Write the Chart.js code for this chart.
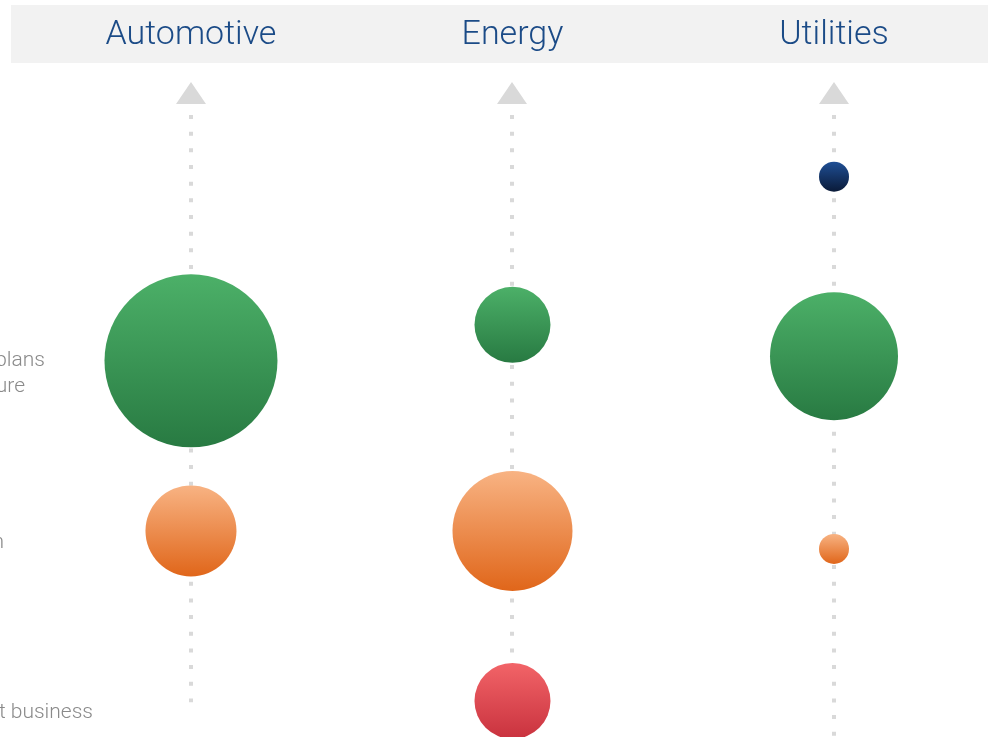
<!DOCTYPE html>
<html>
<head>
<meta charset="utf-8">
<script src="https://cdn.jsdelivr.net/npm/chart.js@4"></script>
<style>
  html, body { margin: 0; padding: 0; background: #fff; }
  #wrap { width: 988px; height: 737px; position: relative; }
</style>
</head>
<body>
<div id="wrap"><canvas id="chart"></canvas></div>
<script>
// categories (columns)
const categories = ['Automotive', 'Energy', 'Utilities'];

// row labels on the left (cut off by the frame)
const rowLabels = [['Investment plans', 'for the future'], ['Cost reduction'], ['Impact on current business']];
const rowValues = [54.4, 29.1, 3.7];

// bubble series: vertical position and bubble radius per category
const greenY = [56.4, 61.8, 57.1];
const greenR = [86.5, 38, 64];
const orangeY = [30.9, 30.9, 28.2];
const orangeR = [45.5, 60, 15];
const redY = [null, 5.4, null];
const redR = [null, 38, null];
const navyY = [null, null, 84.0];
const navyR = [null, null, 15];

// where each dotted guide line stops (value on y)
const guideEnds = [5.2, 0, 0];

function points(ys, rs) {
  const out = [];
  ys.forEach((y, i) => {
    if (y !== null) out.push({ x: i, y: y, r: rs[i] });
  });
  return out;
}

function gradientFill(top, bottom) {
  return function (ctx) {
    const chart = ctx.chart;
    if (!chart.chartArea || !ctx.raw) return bottom;
    const cy = chart.scales.y.getPixelForValue(ctx.raw.y);
    const r = ctx.raw.r;
    const g = chart.ctx.createLinearGradient(0, cy - r, 0, cy + r);
    g.addColorStop(0, top);
    g.addColorStop(1, bottom);
    return g;
  };
}

// header band, arrows, dotted guides and row labels
const decor = {
  id: 'decor',
  beforeDatasetsDraw(chart) {
    const c = chart.ctx;
    const xs = chart.scales.x, ys = chart.scales.y;
    c.save();
    c.fillStyle = '#f2f2f2';
    c.fillRect(11, 5, chart.width - 11, 58);
    c.fillStyle = '#1b4b87';
    c.font = '300 34px Roboto, "Liberation Sans", sans-serif';
    c.textAlign = 'center';
    c.textBaseline = 'middle';
    categories.forEach((name, i) => {
      c.fillText(name, xs.getPixelForValue(i), 35);
    });

    categories.forEach((name, i) => {
      const x = Math.round(xs.getPixelForValue(i));
      c.fillStyle = '#d9d9d9';
      c.beginPath();
      c.moveTo(x, 82);
      c.lineTo(x + 15, 104);
      c.lineTo(x - 15, 104);
      c.closePath();
      c.fill();
      c.strokeStyle = '#d9d9d9';
      c.lineWidth = 4;
      c.setLineDash([4, 12.67]);
      c.beginPath();
      c.moveTo(x, 115);
      c.lineTo(x, ys.getPixelForValue(guideEnds[i]));
      c.stroke();
    });
    c.setLineDash([]);

    c.fillStyle = '#8a8a8a';
    c.font = '300 21px Roboto, "Liberation Sans", sans-serif';
    c.textAlign = 'left';
    c.textBaseline = 'middle';
    const ends = [[45, 25], [4], [93]];
    rowLabels.forEach((lines, i) => {
      const mid = ys.getPixelForValue(rowValues[i]);
      lines.forEach((t, j) => {
        const y = mid + (j - (lines.length - 1) / 2) * 26;
        const w = c.measureText(t).width;
        c.fillText(t, ends[i][j] - w, y);
      });
    });
    c.restore();
  }
};

new Chart(document.getElementById('chart'), {
  type: 'bubble',
  data: {
    datasets: [
      { label: 'Green', data: points(greenY, greenR), backgroundColor: gradientFill('#4cb068', '#287a42') },
      { label: 'Orange', data: points(orangeY, orangeR), backgroundColor: gradientFill('#f8b383', '#e0661a') },
      { label: 'Red', data: points(redY, redR), backgroundColor: gradientFill('#f26468', '#c9323e') },
      { label: 'Navy', data: points(navyY, navyR), backgroundColor: gradientFill('#1f4f95', '#0a1a38') }
    ].map(d => Object.assign(d, { borderWidth: 0, clip: false }))
  },
  options: {
    responsive: true,
    maintainAspectRatio: false,
    animation: false,
    events: [],
    layout: { autoPadding: false, padding: { top: 70, left: 0, right: 0, bottom: 0 } },
    plugins: { legend: { display: false }, tooltip: { enabled: false } },
    scales: {
      x: { type: 'linear', min: -0.594, max: 2.479, display: false },
      y: { type: 'linear', min: 0, max: 100, display: false }
    }
  },
  plugins: [decor]
});
</script>
</body>
</html>
